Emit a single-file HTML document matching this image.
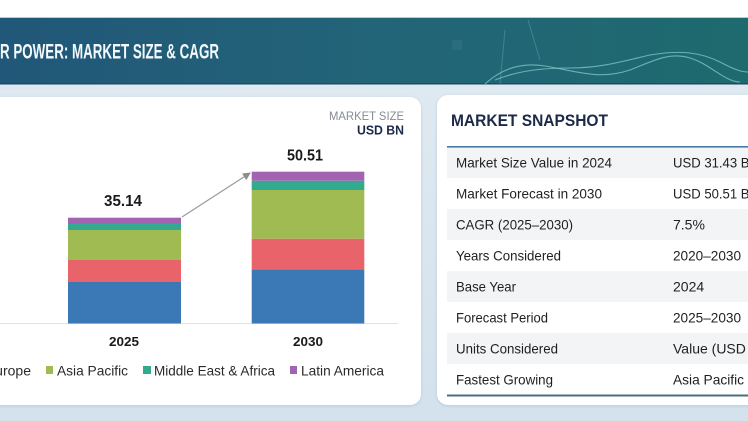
<!DOCTYPE html>
<html>
<head>
<meta charset="utf-8">
<style>
html,body{margin:0;padding:0;background:#fff;}
svg{display:block;}
text{font-family:"Liberation Sans",Arial,sans-serif;}
</style>
</head>
<body>
<svg width="748" height="421" viewBox="0 0 748 421" xmlns="http://www.w3.org/2000/svg">
<defs>
<linearGradient id="ban" x1="0" y1="0" x2="1" y2="0">
<stop offset="0" stop-color="#215778"/>
<stop offset="0.5" stop-color="#226478"/>
<stop offset="1" stop-color="#1e6a6e"/>
</linearGradient>
<linearGradient id="band" x1="0" y1="0" x2="0" y2="1">
<stop offset="0" stop-color="#dfe9f1"/>
<stop offset="1" stop-color="#d3e2ed"/>
</linearGradient>
<marker id="ah" markerWidth="8" markerHeight="8" refX="7" refY="4" orient="auto" markerUnits="userSpaceOnUse">
<path d="M0,0 L8,4 L0,8 z" fill="#8c8c8c"/>
</marker>
<filter id="sh" x="-5%" y="-5%" width="110%" height="110%">
<feDropShadow dx="0" dy="1" stdDeviation="1.5" flood-color="#9fb4c4" flood-opacity="0.5"/>
</filter>
</defs>

<!-- background -->
<rect x="0" y="0" width="748" height="421" fill="#fff"/>
<rect x="0" y="84" width="748" height="337" fill="url(#band)"/>

<!-- banner -->
<rect x="0" y="17" width="748" height="67" fill="url(#ban)"/>
<rect x="0" y="17" width="748" height="1" fill="#a9d2dd"/>
<rect x="0" y="83" width="748" height="1.5" fill="#1b4c63"/>
<g fill="none" stroke="#8fd0d2" stroke-opacity="0.7" stroke-width="1.1">
<path d="M485,84 C500,70 520,62 545,66 C580,72 600,80 630,70 C655,60 670,52 690,58 C710,64 725,82 740,82"/>
<path d="M495,80 C520,70 545,68 570,68 C600,68 620,62 650,55 C680,50 700,52 720,62 C735,70 742,72 748,72"/>
</g>
<g fill="none" stroke="#8ec7cf" stroke-opacity="0.3" stroke-width="1">
<path d="M500,84 L505,30 M528,20 L540,60"/>
</g>
<rect x="452" y="40" width="10" height="10" fill="#3f7f90" opacity="0.35"/>
<text x="0" y="58.5" font-size="21" font-weight="700" fill="#f2f8fb" textLength="219" lengthAdjust="spacingAndGlyphs">R POWER: MARKET SIZE &amp; CAGR</text>

<!-- left panel -->
<rect x="-12" y="97" width="433" height="308" rx="11" fill="#fff" filter="url(#sh)"/>

<!-- market size label -->
<text x="404" y="120" font-size="11.5" fill="#858b94" text-anchor="end" textLength="75" lengthAdjust="spacingAndGlyphs">MARKET SIZE</text>
<text x="404" y="134.5" font-size="12.5" font-weight="700" fill="#1c2a4a" text-anchor="end" textLength="47" lengthAdjust="spacingAndGlyphs">USD BN</text>

<!-- axis -->
<rect x="0" y="323" width="398" height="1" fill="#e2e2e2"/>

<!-- bar 2025 -->
<rect x="68" y="282" width="113" height="41.5" fill="#3a79b6"/>
<rect x="68" y="260" width="113" height="22" fill="#e9636b"/>
<rect x="68" y="230" width="113" height="30" fill="#a0bb52"/>
<rect x="68" y="224" width="113" height="6" fill="#33a98f"/>
<rect x="68" y="217.7" width="113" height="6.3" fill="#a264b0"/>

<!-- bar 2030 -->
<rect x="251.7" y="269.3" width="112.6" height="54.2" fill="#3a79b6"/>
<rect x="251.7" y="238.7" width="112.6" height="30.6" fill="#e9636b"/>
<rect x="251.7" y="190" width="112.6" height="48.7" fill="#a0bb52"/>
<rect x="251.7" y="180.7" width="112.6" height="9.3" fill="#33a98f"/>
<rect x="251.7" y="171.7" width="112.6" height="9" fill="#a264b0"/>

<!-- arrow -->
<line x1="182" y1="217" x2="250" y2="173" stroke="#9a9a9a" stroke-width="1.2" marker-end="url(#ah)"/>

<!-- value labels -->
<text x="123" y="206" font-size="16" font-weight="700" fill="#1a1a1a" text-anchor="middle" textLength="38" lengthAdjust="spacingAndGlyphs">35.14</text>
<text x="305" y="160.7" font-size="16" font-weight="700" fill="#1a1a1a" text-anchor="middle" textLength="36" lengthAdjust="spacingAndGlyphs">50.51</text>

<!-- x labels -->
<text x="124" y="346" font-size="13" font-weight="700" fill="#1a1a1a" text-anchor="middle" textLength="30" lengthAdjust="spacingAndGlyphs">2025</text>
<text x="308" y="346" font-size="13" font-weight="700" fill="#1a1a1a" text-anchor="middle" textLength="30" lengthAdjust="spacingAndGlyphs">2030</text>

<!-- legend -->
<g font-size="14" fill="#2a2a2a">
<text x="31" y="375.7" text-anchor="end">Europe</text>
<rect x="46" y="366" width="7" height="8" fill="#a0bb52"/>
<text x="57" y="375.7" textLength="71" lengthAdjust="spacingAndGlyphs">Asia Pacific</text>
<rect x="143" y="366" width="8" height="8" fill="#33a98f"/>
<text x="154" y="375.7" textLength="121" lengthAdjust="spacingAndGlyphs">Middle East &amp; Africa</text>
<rect x="290" y="366" width="7" height="8" fill="#a264b0"/>
<text x="301" y="375.7" textLength="83" lengthAdjust="spacingAndGlyphs">Latin America</text>
</g>

<!-- right panel -->
<rect x="437" y="95" width="330" height="310" rx="11" fill="#fff" filter="url(#sh)"/>
<text x="451" y="126" font-size="16.5" font-weight="700" fill="#1c2a4a" textLength="157" lengthAdjust="spacingAndGlyphs">MARKET SNAPSHOT</text>

<!-- rows shading -->
<rect x="447" y="147" width="301" height="31" fill="#f3f4f5"/>
<rect x="447" y="209" width="301" height="31" fill="#f3f4f5"/>
<rect x="447" y="271" width="301" height="31" fill="#f3f4f5"/>
<rect x="447" y="333" width="301" height="31" fill="#f3f4f5"/>

<rect x="447" y="146" width="301" height="1.6" fill="#4a78a8"/>
<rect x="447" y="394.5" width="301" height="2" fill="#4d6c82"/>

<g font-size="14" fill="#1f1f1f">
<text x="456" y="167.7" textLength="156" lengthAdjust="spacingAndGlyphs">Market Size Value in 2024</text>
<text x="673" y="167.7" textLength="86" lengthAdjust="spacingAndGlyphs">USD 31.43 BN</text>
<text x="456" y="198.7" textLength="146" lengthAdjust="spacingAndGlyphs">Market Forecast in 2030</text>
<text x="673" y="198.7" textLength="86" lengthAdjust="spacingAndGlyphs">USD 50.51 BN</text>
<text x="456" y="229.7" textLength="117" lengthAdjust="spacingAndGlyphs">CAGR (2025–2030)</text>
<text x="673" y="229.7">7.5%</text>
<text x="456" y="260.7" textLength="105" lengthAdjust="spacingAndGlyphs">Years Considered</text>
<text x="673" y="260.7" textLength="68" lengthAdjust="spacingAndGlyphs">2020–2030</text>
<text x="456" y="291.7" textLength="60" lengthAdjust="spacingAndGlyphs">Base Year</text>
<text x="673" y="291.7">2024</text>
<text x="456" y="322.7" textLength="92" lengthAdjust="spacingAndGlyphs">Forecast Period</text>
<text x="673" y="322.7" textLength="68" lengthAdjust="spacingAndGlyphs">2025–2030</text>
<text x="456" y="353.7" textLength="102" lengthAdjust="spacingAndGlyphs">Units Considered</text>
<text x="673" y="353.7">Value (USD Million)</text>
<text x="456" y="384.7" textLength="97" lengthAdjust="spacingAndGlyphs">Fastest Growing</text>
<text x="673" y="384.7" textLength="71" lengthAdjust="spacingAndGlyphs">Asia Pacific</text>
</g>
</svg>
</body>
</html>
